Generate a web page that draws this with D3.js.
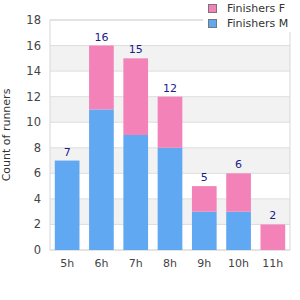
<!DOCTYPE html>
<html>
<head>
<meta charset="utf-8">
<script src="https://cdn.jsdelivr.net/npm/d3@7"></script>
<style>
  body { margin: 0; background: #fff; }
  text { font-family: "DejaVu Sans", sans-serif; }
</style>
</head>
<body>
<svg id="chart" width="300" height="300"></svg>
<script>
const categories = ['5h', '6h', '7h', '8h', '9h', '10h', '11h'];
const finishersM = [7, 11, 9, 8, 3, 3, 0];
const finishersF = [0, 5, 6, 4, 2, 3, 2];
const yTicks = [0, 2, 4, 6, 8, 10, 12, 14, 16, 18];

const margin = {top: 20, right: 10, bottom: 50, left: 50};
const width = 300 - margin.left - margin.right;
const height = 300 - margin.top - margin.bottom;

const svg = d3.select('#chart');
const canvas = svg.append('g')
    .attr('transform', 'translate(' + margin.left + ',' + margin.top + ')');

let x = d3.scaleBand()
    .domain(categories)
    .range([0, width])
    .paddingInner(0.28)
    .paddingOuter(0.14);
let y = d3.scaleLinear()
    .domain([0, 18])
    .range([height, 0]);

// alternating bands
canvas.append('g').selectAll('rect')
    .data(yTicks.slice(0, -1))
    .enter()
    .append('rect')
    .attr('x', 0)
    .attr('width', width)
    .attr('y', d => y(d + 2))
    .attr('height', d => y(d) - y(d + 2))
    .attr('fill', (d, i) => i % 2 == 1 ? '#f2f2f2' : '#fff');

// grid lines
canvas.append('g').selectAll('line')
    .data(yTicks)
    .enter()
    .append('line')
    .attr('x1', 0).attr('x2', width)
    .attr('y1', d => y(d)).attr('y2', d => y(d))
    .attr('stroke', '#dedede');

// frame
canvas.append('rect')
    .attr('x', 0).attr('y', 0)
    .attr('width', width).attr('height', height)
    .attr('fill', 'none')
    .attr('stroke', '#d8d8d8');

let stacked = d3.stack().keys(['m', 'f'])(categories.map((c, i) => ({cat: c, m: finishersM[i], f: finishersF[i]})));
let color = d3.scaleOrdinal().domain(['m', 'f']).range(['#60a8f2', '#f282b8']);

canvas.selectAll('g.series')
    .data(stacked)
    .enter()
    .append('g')
    .attr('class', 'series')
    .attr('fill', d => color(d.key))
    .selectAll('rect')
    .data(d => d)
    .enter()
    .append('rect')
    .attr('x', d => x(d.data.cat))
    .attr('width', x.bandwidth())
    .attr('y', d => y(d[1]))
    .attr('height', d => y(d[0]) - y(d[1]));

// value labels
canvas.append('g').selectAll('text')
    .data(categories)
    .enter()
    .append('text')
    .attr('x', d => x(d) + x.bandwidth() / 2)
    .attr('y', (d, i) => y(finishersM[i] + finishersF[i]) - 5)
    .attr('text-anchor', 'middle')
    .attr('font-size', '11px')
    .attr('fill', '#1c1c8c')
    .text((d, i) => finishersM[i] + finishersF[i]);

// axes
canvas.append('g').selectAll('text')
    .data(yTicks)
    .enter()
    .append('text')
    .attr('x', -9)
    .attr('y', d => y(d))
    .attr('dy', '0.35em')
    .attr('text-anchor', 'end')
    .attr('font-size', '11.5px')
    .attr('fill', '#444')
    .text(d => d);

canvas.append('g').selectAll('text')
    .data(categories)
    .enter()
    .append('text')
    .attr('x', d => x(d) + x.bandwidth() / 2)
    .attr('y', height + 17)
    .attr('text-anchor', 'middle')
    .attr('font-size', '11px')
    .attr('fill', '#444')
    .text(d => d);

svg.append('text')
    .attr('transform', 'translate(10,' + (margin.top + height / 2) + ') rotate(-90)')
    .attr('text-anchor', 'middle')
    .attr('font-size', '11px')
    .attr('fill', '#333')
    .text('Count of runners');

// legend
let legend = svg.append('g');
legend.append('rect')
    .attr('x', 203).attr('y', 0)
    .attr('width', 97).attr('height', 32)
    .attr('fill', '#fff');
let legendItems = [{key: 'f', label: 'Finishers F'}, {key: 'm', label: 'Finishers M'}];
legendItems.forEach((d, i) => {
    legend.append('rect')
        .attr('x', 208.5).attr('y', 4.5 + i * 15)
        .attr('width', 8).attr('height', 8)
        .attr('fill', color(d.key))
        .attr('stroke', '#777');
    legend.append('text')
        .attr('x', 227).attr('y', 8.5 + i * 15)
        .attr('dy', '0.35em')
        .attr('font-size', '11px')
        .attr('fill', '#333')
        .text(d.label);
});
</script>
</body>
</html>
